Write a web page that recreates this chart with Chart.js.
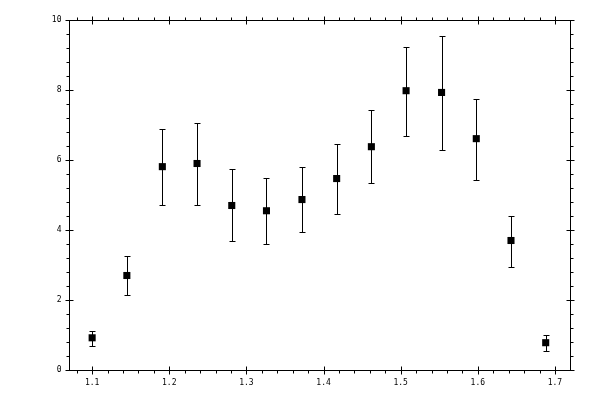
<!DOCTYPE html>
<html>
<head>
<meta charset="utf-8">
<script src="https://cdn.jsdelivr.net/npm/chart.js@4/dist/chart.umd.min.js"></script>
<style>
  html, body { margin: 0; padding: 0; background: #fff; }
  canvas { display: block; }
</style>
</head>
<body>
<canvas id="chart" width="600" height="400"></canvas>
<script>
// measured points with their error bar ends
const xValues = [1.100, 1.145, 1.191, 1.236, 1.281, 1.326, 1.372, 1.417, 1.462, 1.507, 1.553, 1.598, 1.643, 1.688];
const yValues = [0.92, 2.70, 5.81, 5.90, 4.70, 4.55, 4.87, 5.47, 6.38, 7.98, 7.93, 6.61, 3.70, 0.78];
const yHigh = [1.11, 3.26, 6.89, 7.07, 5.73, 5.49, 5.81, 6.47, 7.42, 9.24, 9.55, 7.75, 4.41, 1.01];
const yLow = [0.70, 2.15, 4.71, 4.71, 3.70, 3.61, 3.93, 4.47, 5.33, 6.70, 6.30, 5.44, 2.95, 0.55];

// axis ticks
const xMajorTicks = [1.1, 1.2, 1.3, 1.4, 1.5, 1.6, 1.7];
const xTickLabels = ['1.1', '1.2', '1.3', '1.4', '1.5', '1.6', '1.7'];
const xMinorTicks = [1.08, 1.12, 1.14, 1.16, 1.18, 1.22, 1.24, 1.26, 1.28, 1.32, 1.34, 1.36, 1.38,
  1.42, 1.44, 1.46, 1.48, 1.52, 1.54, 1.56, 1.58, 1.62, 1.64, 1.66, 1.68];
const yMajorTicks = [0, 2, 4, 6, 8, 10];
const yTickLabels = ['0', '2', '4', '6', '8', '10'];
const yMinorTicks = [0.4, 0.8, 1.2, 1.6, 2.4, 2.8, 3.2, 3.6, 4.4, 4.8, 5.2, 5.6,
  6.4, 6.8, 7.2, 7.6, 8.4, 8.8, 9.2, 9.6];

const points = xValues.map((x, i) => ({x: x, y: yValues[i]}));

const crisp = v => Math.round(v) + 0.5;

const errorBars = {
  id: 'errorBars',
  beforeDatasetsDraw(chart) {
    const ctx = chart.ctx;
    const xs = chart.scales.x, ys = chart.scales.y;
    ctx.save();
    ctx.strokeStyle = '#000';
    ctx.lineWidth = 1;
    ctx.beginPath();
    xValues.forEach((x, i) => {
      const px = crisp(xs.getPixelForValue(x));
      const top = crisp(ys.getPixelForValue(yHigh[i]));
      const bot = crisp(ys.getPixelForValue(yLow[i]));
      ctx.moveTo(px, top); ctx.lineTo(px, bot);
      ctx.moveTo(px - 3, top); ctx.lineTo(px + 3, top);
      ctx.moveTo(px - 3, bot); ctx.lineTo(px + 3, bot);
    });
    ctx.stroke();
    ctx.restore();
  }
};

const frame = {
  id: 'frame',
  afterDraw(chart) {
    const ctx = chart.ctx;
    const a = chart.chartArea;
    const xs = chart.scales.x, ys = chart.scales.y;
    const L = crisp(a.left), R = crisp(a.right), T = crisp(a.top), B = crisp(a.bottom);
    ctx.save();
    ctx.strokeStyle = '#000';
    ctx.lineWidth = 1;
    ctx.beginPath();
    ctx.rect(L, T, R - L, B - T);

    xMajorTicks.forEach(v => {
      const p = crisp(xs.getPixelForValue(v));
      ctx.moveTo(p, B - 4); ctx.lineTo(p, B + 4);
      ctx.moveTo(p, T - 4); ctx.lineTo(p, T + 4);
    });
    xMinorTicks.forEach(v => {
      const p = crisp(xs.getPixelForValue(v));
      ctx.moveTo(p, B); ctx.lineTo(p, B + 3);
      ctx.moveTo(p, T); ctx.lineTo(p, T - 3);
    });
    yMajorTicks.forEach(v => {
      const p = crisp(ys.getPixelForValue(v));
      ctx.moveTo(L - 4, p); ctx.lineTo(L + 4, p);
      ctx.moveTo(R - 4, p); ctx.lineTo(R + 4, p);
    });
    yMinorTicks.forEach(v => {
      const p = crisp(ys.getPixelForValue(v));
      ctx.moveTo(L, p); ctx.lineTo(L - 3, p);
      ctx.moveTo(R, p); ctx.lineTo(R + 3, p);
    });
    ctx.stroke();

    ctx.fillStyle = '#000';
    ctx.font = "8px 'DejaVu Sans Mono'";
    ctx.textAlign = 'center';
    ctx.textBaseline = 'middle';
    xMajorTicks.forEach((v, i) => {
      ctx.fillText(xTickLabels[i], xs.getPixelForValue(v), B + 12);
    });
    ctx.textAlign = 'right';
    yMajorTicks.forEach((v, i) => {
      ctx.fillText(yTickLabels[i], L - 8, ys.getPixelForValue(v));
    });
    ctx.restore();
  }
};

new Chart(document.getElementById('chart'), {
  type: 'scatter',
  plugins: [errorBars, frame],
  data: {
    datasets: [{
      data: points,
      pointStyle: 'rect',
      pointRadius: 5,
      pointHoverRadius: 5,
      backgroundColor: '#000',
      borderColor: '#000',
      borderWidth: 0
    }]
  },
  options: {
    responsive: false,
    animation: false,
    events: [],
    layout: {
      autoPadding: false,
      padding: {left: 69, top: 20, right: 30, bottom: 30}
    },
    plugins: {
      legend: {display: false},
      tooltip: {enabled: false}
    },
    scales: {
      x: {type: 'linear', min: 1.07, max: 1.7195, display: false},
      y: {type: 'linear', min: 0, max: 10, display: false}
    }
  }
});
</script>
</body>
</html>
